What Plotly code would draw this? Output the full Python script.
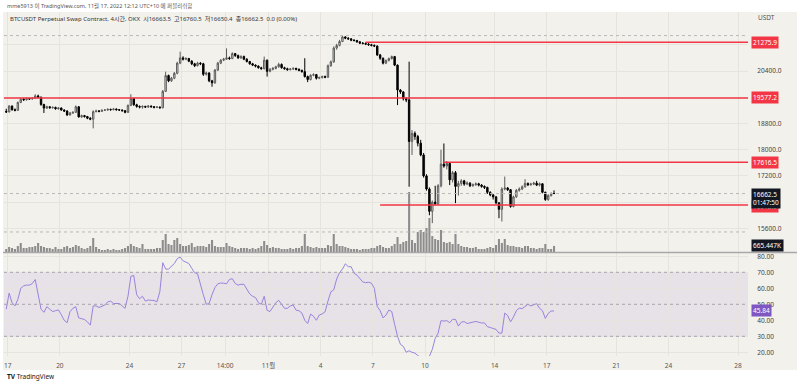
import pandas as pd
import plotly.graph_objects as go

# ---------------- data ----------------
first_open = 19170
closes = [
    19150, 19330, 19220, 19200, 19440, 19540, 19520, 19560, 19545, 19570,
    19640, 19600, 19380, 19270, 19310, 19280, 19290, 19250, 19270, 19210,
    19180, 19060, 19120, 19140, 19310, 19000, 19040, 19010, 18960, 18930,
    19160, 19180, 19170, 19200, 19210, 19230, 19220, 19240, 19220, 19210,
    19190, 19140, 19350, 19560, 19370, 19320, 19300, 19320, 19300, 19330,
    19310, 19290, 19300, 19280, 19780, 20260, 20100, 20180, 20330, 20640,
    20800, 20760, 20780, 20700, 20620, 20560, 20640, 20620, 20300, 20340,
    20100, 20040, 20430, 20640, 20730, 20760, 20800, 20780, 20930, 20870,
    20800, 20840, 20760, 20690, 20620, 20580, 20550, 20500, 20470, 20730,
    20390, 20450, 20480, 20530, 20600, 20500, 20470, 20440, 20460, 20480,
    20450, 20420, 20380, 20230, 20140, 20270, 20290, 20180, 20200, 20230,
    20210, 20560, 20680, 21100, 21180, 21300, 21440, 21400, 21380, 21340,
    21330, 21290, 21250, 21240, 21220, 21200, 21180, 21160, 20890, 20790,
    20640, 20720, 20780, 20840, 20580, 19820, 19760, 19550, 19520, 18250,
    18500, 18400, 18200, 17840, 17200, 16800, 16120, 16400, 16350, 16900,
    17560, 17500, 17580, 17080, 17300, 16880, 16970, 17050, 16950, 16980,
    16900, 16930, 16960, 16920, 16880, 16850, 16700, 16620, 16560, 16380,
    16180, 16800, 16830, 16780, 16270, 16560, 16760, 16800, 16870, 16970,
    16930, 16950, 16980, 16920, 16960, 16700, 16480, 16600, 16663.5, 16662.5,
]
highs = [
    19250, 19360, 19350, 19260, 19470, 19570, 19580, 19590, 19580, 19600,
    19690, 19680, 19620, 19400, 19340, 19330, 19320, 19310, 19300, 19290,
    19230, 19200, 19150, 19170, 19350, 19320, 19070, 19060, 19030, 18990,
    19200, 19220, 19210, 19230, 19240, 19260, 19250, 19270, 19260, 19240,
    19230, 19210, 19380, 19690, 19580, 19400, 19350, 19350, 19340, 19360,
    19350, 19330, 19330, 19320, 19820, 20380, 20290, 20220, 20370, 20680,
    20990, 20850, 20820, 20800, 20730, 20650, 20680, 20670, 20650, 20380,
    20360, 20130, 20460, 20680, 20760, 20800, 21090, 20840, 20970, 20950,
    20900, 20880, 20870, 20790, 20710, 20650, 20600, 20570, 20530, 20840,
    20750, 20490, 20520, 20560, 20650, 20630, 20530, 20500, 20490, 20510,
    20500, 20480, 20440, 20790, 20260, 20300, 20330, 20310, 20230, 20260,
    20260, 20600, 20720, 21150, 21230, 21350, 21480, 21460, 21430, 21400,
    21370, 21350, 21310, 21280, 21270, 21250, 21230, 21210, 21180, 20920,
    20810, 20750, 20810, 20870, 20860, 20600, 19850, 19790, 19600, 20685,
    18600, 18560, 18450, 18300, 17900, 17250, 16850, 16450, 16900, 16950,
    18000, 18190, 17650, 17620, 17350, 17350, 17050, 17100, 17080, 17030,
    17010, 16970, 17000, 16990, 16950, 16910, 16870, 16730, 16650, 16590,
    16400, 16850, 17180, 16860, 16800, 16600, 16800, 16850, 16910, 17100,
    17000, 16990, 17020, 17050, 17000, 16980, 16720, 16640, 16700, 16760.5,
]
lows = [
    19120, 19140, 19190, 19170, 19190, 19420, 19490, 19500, 19520, 19530,
    19550, 19570, 19340, 19120, 19240, 19250, 19250, 19220, 19220, 19190,
    19150, 19030, 19040, 19090, 19120, 18980, 18970, 18980, 18930, 18900,
    18650, 19140, 19140, 19150, 19180, 19190, 19190, 19200, 19190, 19180,
    19160, 19110, 19120, 19330, 19340, 19280, 19260, 19250, 19270, 19280,
    19280, 19260, 19270, 19250, 19260, 19760, 20060, 20070, 20150, 20300,
    20610, 20720, 20730, 20670, 20580, 20520, 20540, 20580, 20250, 20260,
    20060, 19920, 20010, 20400, 20610, 20700, 20740, 20740, 20760, 20830,
    20770, 20770, 20730, 20660, 20590, 20550, 20510, 20470, 20440, 20450,
    20230, 20360, 20420, 20450, 20500, 20470, 20440, 20410, 20420, 20430,
    20420, 20390, 20350, 20200, 20060, 20110, 20240, 20140, 20150, 20170,
    20180, 20190, 20530, 20650, 21050, 21150, 21280, 21370, 21350, 21310,
    21300, 21260, 21220, 21210, 21190, 21170, 21150, 21130, 20860, 20740,
    20600, 20610, 20690, 20750, 20550, 19360, 19700, 19500, 19450, 16870,
    17840, 18300, 18100, 17800, 17150, 16750, 16000, 15760, 16300, 16300,
    16850, 17450, 17400, 16920, 17000, 16370, 16600, 16900, 16900, 16920,
    16860, 16870, 16900, 16880, 16840, 16800, 16650, 16580, 16480, 16340,
    15910, 15810, 16760, 16740, 16230, 16240, 16530, 16720, 16770, 16840,
    16890, 16900, 16920, 16890, 16880, 16670, 16440, 16440, 16570, 16650.4,
]
volume_k = [
    330, 550, 440, 330, 660, 990, 440, 440, 550, 550,
    660, 990, 660, 550, 440, 440, 330, 550, 330, 330,
    550, 660, 440, 550, 770, 660, 440, 330, 440, 660,
    1540, 550, 330, 220, 220, 330, 220, 330, 220, 220,
    330, 440, 660, 880, 660, 550, 440, 880, 330, 330,
    330, 330, 440, 440, 1320, 1980, 880, 770, 1320, 1540,
    880, 660, 660, 770, 990, 550, 660, 660, 660, 550,
    880, 1320, 660, 550, 550, 550, 990, 660, 550, 440,
    330, 440, 440, 440, 330, 440, 330, 440, 660, 1210,
    770, 440, 550, 440, 440, 330, 330, 330, 440, 330,
    440, 440, 660, 1980, 660, 550, 440, 550, 440, 440,
    440, 770, 660, 1980, 880, 660, 660, 550, 440, 330,
    330, 330, 220, 330, 330, 330, 440, 440, 660, 770,
    550, 440, 440, 660, 880, 1650, 880, 1100, 1210, 6600,
    1320, 990, 2200, 2420, 2200, 2640, 3740, 1760, 1430, 1320,
    2420, 1100, 990, 1100, 880, 1980, 880, 660, 550, 550,
    440, 440, 550, 330, 330, 330, 440, 550, 440, 770,
    1430, 990, 1430, 770, 660, 660, 550, 550, 440, 660,
    660, 440, 440, 330, 440, 440, 880, 330, 330, 665.447,
]
rsi = [
    47, 57, 51, 49, 53, 60, 61.5, 62, 62, 63,
    65.5, 56, 47, 45, 48.5, 47, 45.5, 46, 46.5, 43.5,
    40, 38.5, 45.4, 47.5, 48.5, 41.5, 41, 40.5, 39, 37,
    49, 49, 48, 49, 49.5, 51.5, 52, 50.5, 50.5, 50.5,
    49, 47.5, 55, 67.5, 68, 56, 53.5, 55, 52, 52.7,
    52.5, 52.4, 51.5, 58, 76, 72, 72, 74, 75.5, 78.5,
    79.5, 77.2, 76.5, 75.5, 72.5, 69.8, 69, 62, 56, 50,
    50.5, 56, 60.5, 62.8, 63.3, 63.2, 62.8, 65.5, 66, 63,
    62, 62.5, 62.5, 59.5, 56.5, 55, 54.2, 51, 50, 55,
    46.2, 45.5, 48.5, 51, 52.5, 50, 47.5, 47.5, 49, 49.5,
    46.3, 46, 44.5, 40, 38, 43.9, 42.5, 40, 43.3, 44,
    45.3, 52, 57.8, 59, 65.8, 69.8, 72, 75.3, 73.5, 73.5,
    69.5, 68.2, 66.4, 64, 63.5, 63.8, 63.2, 60, 48.6, 46,
    41.5, 43.2, 46.4, 45.5, 37.5, 30, 25, 23.7, 20, 21,
    20, 19.5, 18, 16.5, 15.5, 15, 17.5, 21.8, 28.7, 32,
    39.8, 39.5, 39.8, 38.5, 40.6, 40.6, 36.4, 38.8, 39.2, 38,
    38.3, 38.8, 39.3, 38.8, 38.3, 38.4, 36, 35.5, 35, 34.3,
    32, 32, 44.5, 43, 39, 42, 46, 47.6, 47.3, 48.5,
    50, 49, 49.5, 50.4, 47.5, 46, 41.2, 44.3, 45.8, 45.84,
]

level_values = [21275.9, 19577.2, 17616.5, 16315.0]
level_start_candle = [124, None, 151, 129]
guide_levels = [21480, 15490]
last_price = 16662.5
last_volume_k = 665.447
rsi_last = 45.84

tick_dates = ["2022-10-17", "2022-10-20", "2022-10-24", "2022-10-27",
              "2022-10-29 12:00", "2022-11-01", "2022-11-04", "2022-11-07",
              "2022-11-10", "2022-11-14", "2022-11-17", "2022-11-21",
              "2022-11-24", "2022-11-28"]
tick_text = ["17", "20", "24", "27", "14:00", "11월", "4", "7", "10", "14",
             "17", "21", "24", "28"]
price_ticks = [21200, 20400, 19600, 18800, 18000, 17200, 16400, 15600]
price_tick_text = ["", "20400.0", "", "18800.0", "18000.0", "17200.0", "", "15600.0"]
rsi_ticks = [20, 30, 40, 50, 60, 70, 80]
rsi_tick_text = ["20.00", "30.00", "40.00", "50.00", "60.00", "70.00", "80.00"]

header = "mme5913 이 TradingView.com, 11월 17, 2022 12:12 UTC+10 에 퍼블리쉬함"
legend = ("BTCUSDT Perpetual Swap Contract, 4시간, OKX  시16663.5  고16760.5  "
          "저16650.4  종16662.5  0.0 (0.00%)")

# ---------------- derived ----------------
opens = [first_open] + closes[:-1]
times = pd.date_range("2022-10-16 22:00", periods=len(closes), freq="4h")
X0 = pd.Timestamp("2022-10-16 18:54")
X1 = pd.Timestamp("2022-11-28 13:42")

BG = "#F3F1EC"
GRID = "#E7E4DE"
RED = "#F23645"
FONT = "Noto Sans, Noto Sans CJK KR, sans-serif"

W, H = 800, 382
ML, MR, MT, MB = 4, 52, 12, 26
PW, PH = W - ML - MR, H - MT - MB


def px_x(p):
    return (p - ML) / PW


def px_y(p):
    return (H - MB - p) / PH


fig = go.Figure()

fig.add_trace(go.Bar(
    x=times, y=volume_k, xaxis="x", yaxis="y2",
    marker=dict(color="#8d8d8d", line=dict(width=0)),
    width=4 * 3600 * 1000 * 0.72, hoverinfo="skip", showlegend=False,
))
fig.add_trace(go.Candlestick(
    x=times, open=opens, high=highs, low=lows, close=closes,
    xaxis="x", yaxis="y", whiskerwidth=0,
    increasing=dict(line=dict(color="#5c5c5c", width=1), fillcolor="#e2e2e2"),
    decreasing=dict(line=dict(color="#000000", width=1), fillcolor="#000000"),
    hoverinfo="skip", showlegend=False,
))
fig.add_trace(go.Scatter(
    x=times, y=rsi, xaxis="x2", yaxis="y3", mode="lines",
    line=dict(color="#9a83dc", width=1), hoverinfo="skip", showlegend=False,
))

shapes = []
shapes.append(dict(type="rect", xref="paper", yref="paper",
                   x0=px_x(3), x1=px_x(797), y0=px_y(370), y1=px_y(12),
                   fillcolor=BG, line=dict(width=0), layer="below"))
shapes.append(dict(type="rect", xref="paper", yref="y3", x0=0, x1=1, y0=30, y1=70,
                   fillcolor="rgba(126,87,194,0.10)", line=dict(width=0), layer="below"))
for v in (70, 50, 30):
    shapes.append(dict(type="line", xref="paper", yref="y3", x0=0, x1=1, y0=v, y1=v,
                       line=dict(color="#a8a2b4", width=1, dash="3px,3px")))
shapes.append(dict(type="line", xref="paper", yref="paper", x0=px_x(3), x1=px_x(797),
                   y0=px_y(252.5), y1=px_y(252.5), line=dict(color="#a8a8a8", width=1.5)))
for v in guide_levels + [last_price]:
    shapes.append(dict(type="line", xref="paper", yref="y", x0=0, x1=1, y0=v, y1=v,
                       line=dict(color="#b8b8b8", width=1, dash="3px,3px")))
for v, s in zip(level_values, level_start_candle):
    x_start = X0 if s is None else times[s]
    shapes.append(dict(type="line", xref="x", yref="y", x0=x_start, x1=X1, y0=v, y1=v,
                       line=dict(color=RED, width=1.5)))

ann = []
ann.append(dict(text=header, xref="paper", yref="paper", x=px_x(5), y=px_y(6),
                xanchor="left", yanchor="middle", showarrow=False,
                font=dict(size=5.5, color="#555", family=FONT)))
ann.append(dict(text=legend, xref="paper", yref="paper", x=px_x(8), y=px_y(19),
                xanchor="left", yanchor="middle", showarrow=False,
                font=dict(size=6, color="#333", family=FONT)))
ann.append(dict(text="USDT", xref="paper", yref="paper", x=px_x(756), y=px_y(17),
                xanchor="left", yanchor="middle", showarrow=False,
                font=dict(size=6.5, color="#555", family=FONT)))
for v in level_values:
    ann.append(dict(text=f"{v:.1f}", xref="paper", yref="y", x=px_x(751), y=v,
                    yshift=-2 if v == 16315.0 else 0,
                    xanchor="left", yanchor="middle", showarrow=False,
                    bgcolor=RED, borderpad=1,
                    font=dict(size=6.5, color="white", family=FONT)))
ann.append(dict(text=f"{last_price:.1f}<br>01:47:50", xref="paper", yref="y",
                x=px_x(751), y=last_price, yshift=6, xanchor="left", yanchor="top",
                showarrow=False, bgcolor="#131722", borderpad=1, align="left",
                font=dict(size=6.5, color="white", family=FONT)))
ann.append(dict(text=f"{last_volume_k:.3f}K", xref="paper", yref="y2",
                x=px_x(751), y=last_volume_k, xanchor="left", yanchor="middle",
                showarrow=False, bgcolor="#131722", borderpad=1,
                font=dict(size=6.5, color="white", family=FONT)))
ann.append(dict(text=f"{rsi_last:.2f}", xref="paper", yref="y3",
                x=px_x(751), y=rsi_last, xanchor="left", yanchor="middle",
                showarrow=False, bgcolor="#7E57C2", borderpad=1,
                font=dict(size=6.5, color="white", family=FONT)))
ann.append(dict(text="<b>TV</b> TradingView", xref="paper", yref="paper",
                x=px_x(5), y=px_y(376), xanchor="left", yanchor="middle",
                showarrow=False, font=dict(size=6.5, color="#131722", family=FONT)))

main_bottom = px_y(252)
rsi_top = px_y(253)

fig.update_layout(
    width=W, height=H, margin=dict(l=ML, r=MR, t=MT, b=MB),
    paper_bgcolor="white", plot_bgcolor=BG,
    font=dict(family=FONT, size=6.5, color="#444"),
    showlegend=False, shapes=shapes, annotations=ann,
    xaxis=dict(domain=[0, 1], anchor="y", range=[X0, X1], type="date",
               rangeslider=dict(visible=False), showticklabels=False,
               tickvals=tick_dates, showgrid=True, gridcolor=GRID, gridwidth=1,
               zeroline=False, showline=False, ticks=""),
    yaxis=dict(domain=[main_bottom, 1], anchor="x", range=[14879.5, 22199.5],
               side="right", tickvals=price_ticks, ticktext=price_tick_text,
               showgrid=True, gridcolor=GRID, zeroline=False, showline=False,
               ticks="outside", ticklen=7, tickcolor="rgba(0,0,0,0)",
               tickfont=dict(size=6.5, color="#444")),
    yaxis2=dict(overlaying="y", anchor="x", range=[0, 26400], visible=False),
    xaxis2=dict(domain=[0, 1], anchor="y3", range=[X0, X1], type="date",
                tickvals=tick_dates, ticktext=tick_text, showgrid=True,
                gridcolor=GRID, zeroline=False, showline=False,
                ticks="outside", ticklen=3, tickcolor="rgba(0,0,0,0)",
                tickfont=dict(size=6.5, color="#555")),
    yaxis3=dict(domain=[0, rsi_top], anchor="x2", range=[17.69, 82.06],
                side="right", tickvals=rsi_ticks, ticktext=rsi_tick_text,
                showgrid=True, gridcolor=GRID, zeroline=False, showline=False,
                ticks="outside", ticklen=7, tickcolor="rgba(0,0,0,0)",
                tickfont=dict(size=6.5, color="#444")),
)

fig.write_html("out.html", config={"displayModeBar": False},
               post_script="document.body.style.margin='0';")
